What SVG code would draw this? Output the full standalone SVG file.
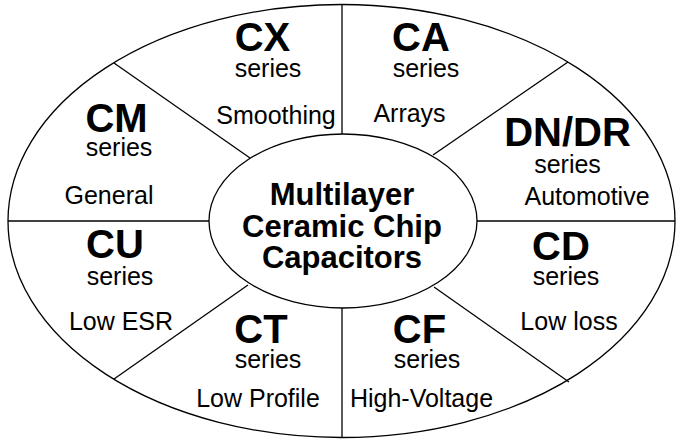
<svg xmlns="http://www.w3.org/2000/svg" width="681" height="440" viewBox="0 0 681 440">
  <style>
    .shape { fill: none; stroke: #000; stroke-width: 1.3; }
    .sep { stroke: #000; stroke-width: 1.3; fill: none; }
    text { font-family: "Liberation Sans", Arial, sans-serif; fill: #000; text-anchor: middle; }
    .code { font-size: 40px; font-weight: bold; }
    .sub { font-size: 25px; }
    .hub { font-size: 31px; font-weight: bold; }
  </style>
  <rect width="681" height="440" fill="#fff"/>

  <!-- outer ring -->
  <ellipse id="outer" class="shape" cx="341.5" cy="221" rx="333.5" ry="216.5"/>

  <!-- spokes between the series sectors -->
  <g id="connectors">
    <line class="sep" x1="342" y1="4.5" x2="342" y2="134"/>
    <line class="sep" x1="342" y1="308" x2="342" y2="437.5"/>
    <line class="sep" x1="8" y1="221" x2="209" y2="221"/>
    <line class="sep" x1="477" y1="221" x2="675" y2="221"/>
    <line class="sep" x1="114" y1="63" x2="250" y2="158"/>
    <line class="sep" x1="568" y1="62" x2="433" y2="155"/>
    <line class="sep" x1="114" y1="379" x2="248" y2="285"/>
    <line class="sep" x1="569" y1="382" x2="434" y2="287"/>
  </g>

  <!-- hub -->
  <g id="hub">
    <ellipse class="shape" cx="343" cy="221" rx="134" ry="87"/>
    <text class="hub" x="342" y="205">Multilayer</text>
    <text class="hub" x="342" y="237">Ceramic Chip</text>
    <text class="hub" x="342" y="268">Capacitors</text>
  </g>

  <g id="cx">
    <text class="code" x="262.5" y="51">CX</text>
    <text class="sub" x="268" y="77">series</text>
    <text class="sub" x="276" y="124">Smoothing</text>
  </g>

  <g id="ca">
    <text class="code" x="421" y="51">CA</text>
    <text class="sub" x="426" y="77">series</text>
    <text class="sub" x="409.5" y="122">Arrays</text>
  </g>

  <g id="cm">
    <text class="code" x="116.5" y="132">CM</text>
    <text class="sub" x="119" y="156">series</text>
    <text class="sub" x="109" y="204">General</text>
  </g>

  <g id="dndr">
    <text class="code" x="567.5" y="146">DN/DR</text>
    <text class="sub" x="567.5" y="173">series</text>
    <text class="sub" x="587" y="205">Automotive</text>
  </g>

  <g id="cu">
    <text class="code" x="115" y="258">CU</text>
    <text class="sub" x="120" y="285">series</text>
    <text class="sub" x="121" y="330">Low ESR</text>
  </g>

  <g id="cd">
    <text class="code" x="561" y="260">CD</text>
    <text class="sub" x="566" y="285">series</text>
    <text class="sub" x="569" y="330">Low loss</text>
  </g>

  <g id="ct">
    <text class="code" x="261" y="343">CT</text>
    <text class="sub" x="268" y="368">series</text>
    <text class="sub" x="258" y="407">Low Profile</text>
  </g>

  <g id="cf">
    <text class="code" x="419.5" y="343">CF</text>
    <text class="sub" x="427" y="368">series</text>
    <text class="sub" x="421.5" y="407">High-Voltage</text>
  </g>
</svg>
